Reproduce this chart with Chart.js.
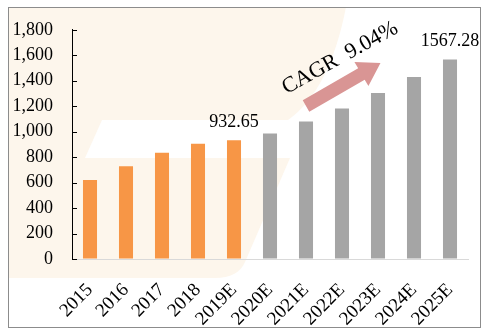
<!DOCTYPE html>
<html>
<head>
<meta charset="utf-8">
<script src="https://cdn.jsdelivr.net/npm/chart.js@4"></script>
<style>
  body { margin: 0; background: #fff; }
  canvas { display: block; }
</style>
</head>
<body>
<canvas id="myChart" width="493" height="333"></canvas>
<script>
// data
var years = ["2015", "2016", "2017", "2018", "2019E", "2020E", "2021E", "2022E", "2023E", "2024E", "2025E"];
var values = [620, 729, 835, 906, 932.65, 985, 1080, 1182, 1304, 1430, 1567.28];
var barColors = ["#f79646", "#f79646", "#f79646", "#f79646", "#f79646",
  "#a5a5a5", "#a5a5a5", "#a5a5a5", "#a5a5a5", "#a5a5a5", "#a5a5a5"];
var labelled = {4: "932.65", 10: "1567.28"};
var cagrText = "CAGR  9.04%";

var serif = "'Liberation Serif', 'Times New Roman', serif";

// faint watermark + frame behind the chart
var backdrop = {
  id: "backdrop",
  beforeDraw: function(chart) {
    var c = chart.ctx;
    c.save();
    c.fillStyle = "#fff";
    c.fillRect(0, 0, chart.width, chart.height);
    c.fillStyle = "#fdf6ec";
    c.beginPath();
    c.moveTo(8, 7);
    c.lineTo(346, 7);
    c.quadraticCurveTo(330, 90, 288, 120);
    c.lineTo(290, 158);
    c.lineTo(245, 262);
    c.quadraticCurveTo(238, 278, 215, 278);
    c.lineTo(8, 278);
    c.closePath();
    c.fill();
    // white band
    c.fillStyle = "#fff";
    c.beginPath();
    c.moveTo(102, 120);
    c.lineTo(300, 120);
    c.lineTo(292, 158);
    c.lineTo(85, 158);
    c.closePath();
    c.fill();
    c.restore();
  },
  afterDraw: function(chart) {
    var c = chart.ctx;
    c.save();
    c.strokeStyle = "#8c8c8c";
    c.lineWidth = 1;
    c.strokeRect(8.5, 7.5, 472, 320);
    c.restore();
  }
};

// inward tick marks on the y axis
var yTicks = {
  id: "yTicks",
  afterDraw: function(chart) {
    var c = chart.ctx, s = chart.scales.y;
    c.save();
    c.strokeStyle = "#000";
    c.lineWidth = 1;
    s.ticks.forEach(function(t) {
      var y = Math.round(s.getPixelForValue(t.value)) + 0.5;
      c.beginPath();
      c.moveTo(s.right, y);
      c.lineTo(s.right + 5, y);
      c.stroke();
    });
    c.restore();
  }
};

// value labels + CAGR arrow
var notes = {
  id: "notes",
  afterDatasetsDraw: function(chart) {
    var c = chart.ctx;
    var meta = chart.getDatasetMeta(0);
    c.save();
    c.fillStyle = "#000";
    c.font = "18px " + serif;
    c.textAlign = "center";
    c.textBaseline = "bottom";
    Object.keys(labelled).forEach(function(i) {
      var bar = meta.data[i];
      c.fillText(labelled[i], bar.x, bar.y - 9);
    });

    // arrow
    c.translate(306, 106);
    c.rotate(-30 * Math.PI / 180);
    c.fillStyle = "#d99594";
    c.beginPath();
    c.moveTo(0, -6.5);
    c.lineTo(64, -6.5);
    c.lineTo(64, -14);
    c.lineTo(86, 0);
    c.lineTo(64, 14);
    c.lineTo(64, 6.5);
    c.lineTo(0, 6.5);
    c.closePath();
    c.fill();
    c.restore();

    c.save();
    c.translate(340, 58);
    c.rotate(-29 * Math.PI / 180);
    c.fillStyle = "#000";
    c.font = "22px " + serif;
    c.textAlign = "center";
    c.textBaseline = "middle";
    c.fillText(cagrText, 0, 0);
    c.restore();
  }
};

new Chart("myChart", {
  type: "bar",
  data: {
    labels: years,
    datasets: [{
      data: values,
      backgroundColor: barColors,
      borderWidth: 0,
      categoryPercentage: 1,
      barPercentage: 0.39
    }]
  },
  options: {
    responsive: false,
    animation: false,
    devicePixelRatio: 1,
    layout: {padding: {left: 8, top: 22, right: 25, bottom: 0}},
    plugins: {legend: {display: false}, tooltip: {enabled: false}},
    scales: {
      x: {
        grid: {display: false},
        border: {display: true, color: "#d9d9d9", width: 1},
        ticks: {
          color: "#000",
          font: {family: serif, size: 19},
          autoSkip: false,
          minRotation: 45, maxRotation: 45,
          padding: 12
        },
        afterFit: function(s) { s.height = 74; }
      },
      y: {
        min: 0, max: 1800,
        grid: {drawOnChartArea: false, drawTicks: false},
        border: {display: true, color: "#000", width: 1},
        ticks: {
          stepSize: 200,
          color: "#000",
          font: {family: serif, size: 18},
          padding: 19,
          callback: function(v) { return v.toLocaleString("en-US"); }
        },
        afterFit: function(s) { s.width = 64; }
      }
    }
  },
  plugins: [backdrop, yTicks, notes]
});
</script>
</body>
</html>
